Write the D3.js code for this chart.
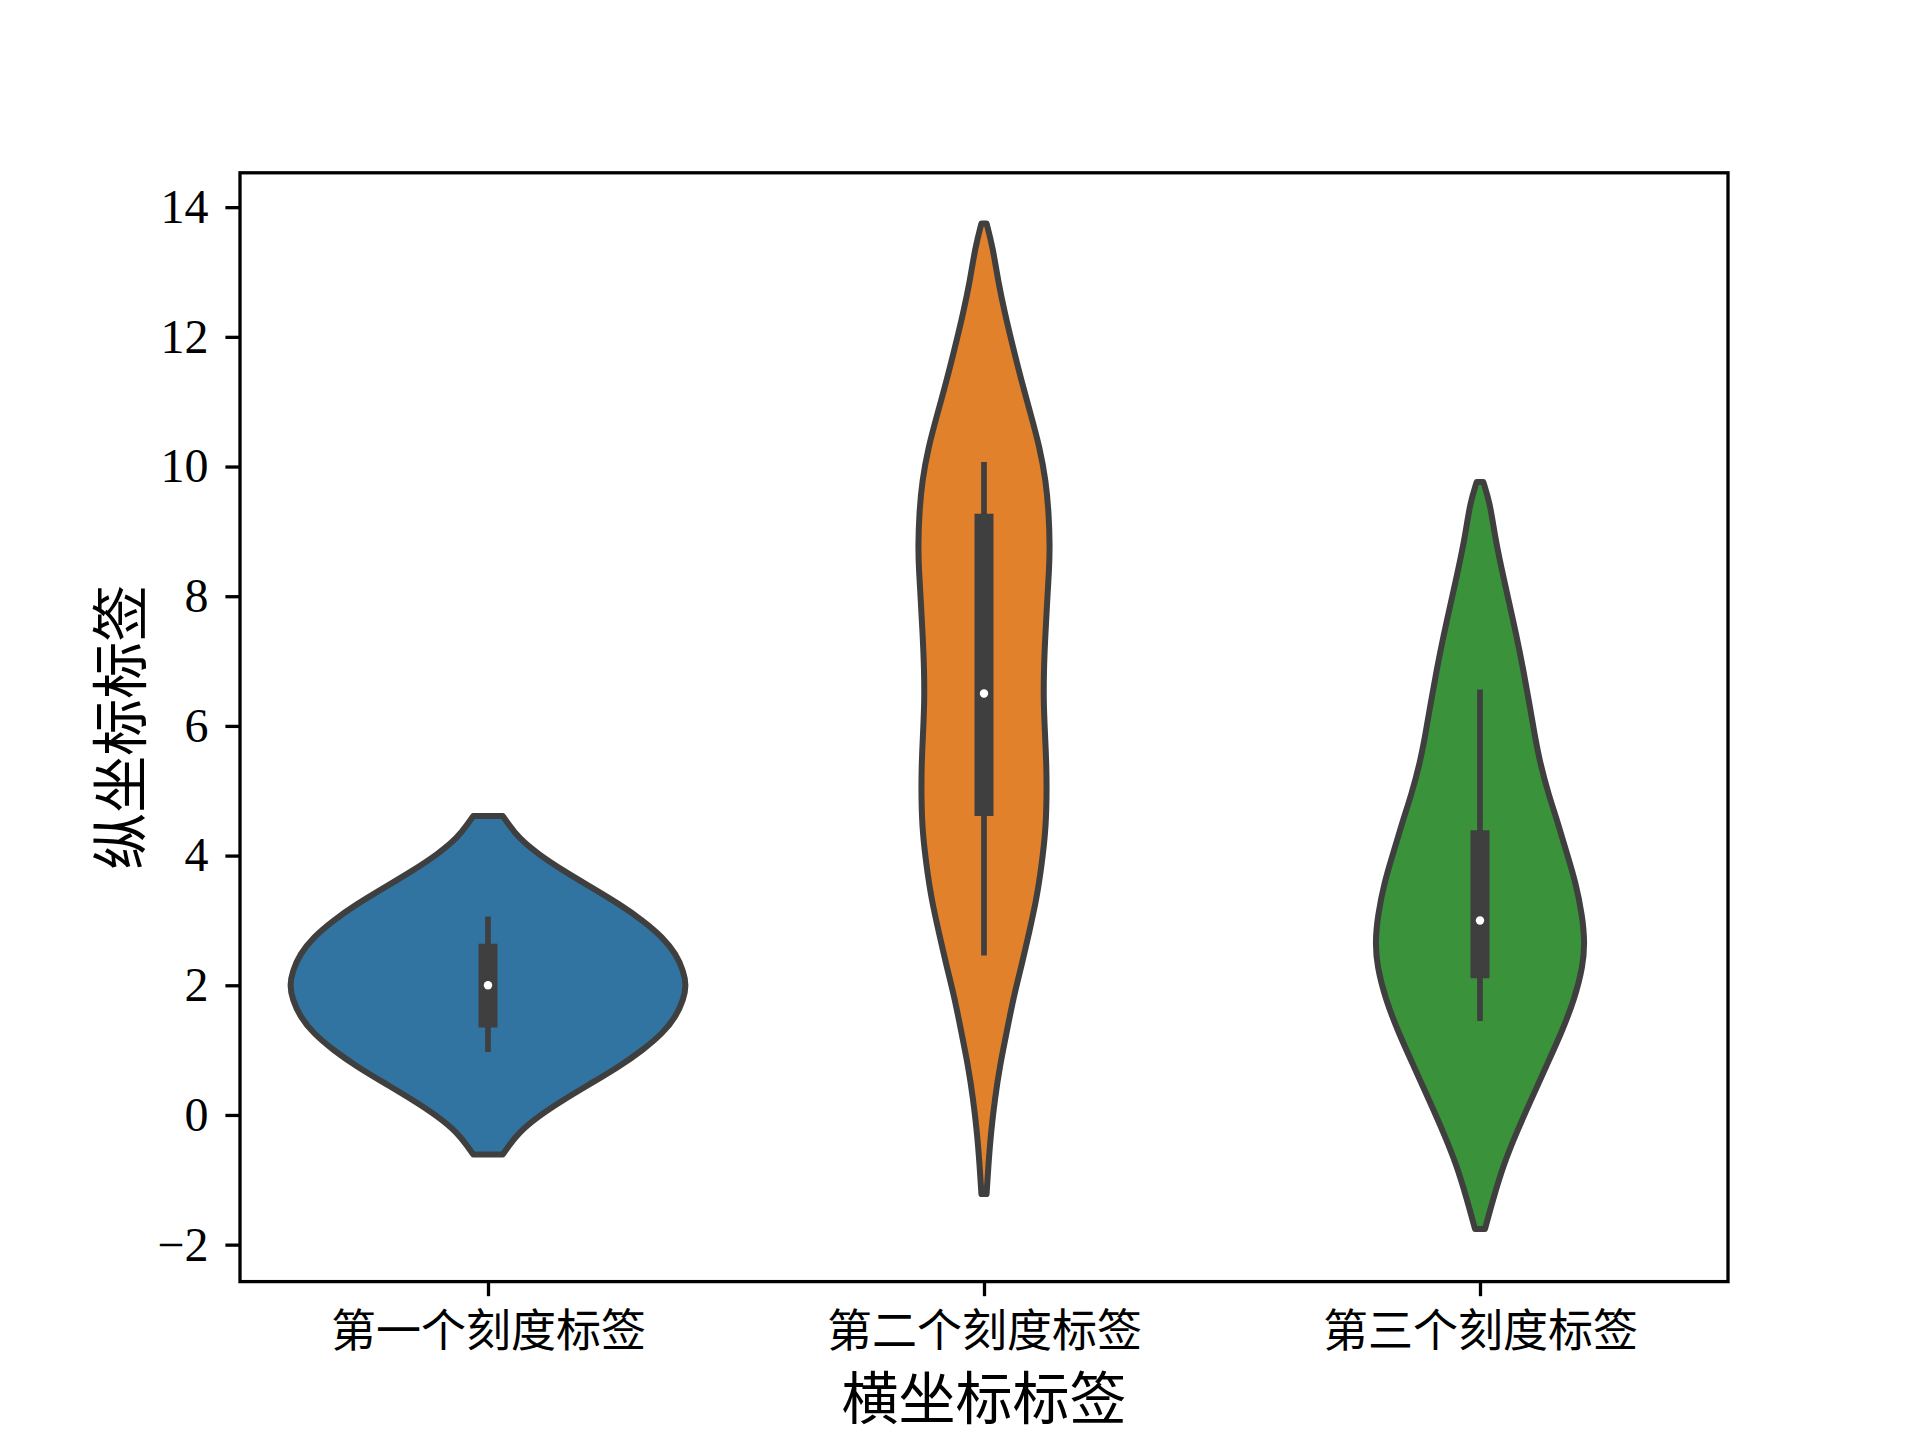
<!DOCTYPE html>
<html><head><meta charset="utf-8">
<script src="https://cdn.jsdelivr.net/npm/d3@7"></script>
<style>body{margin:0;background:#fff}</style>
</head><body>
<svg id="chart" width="1920" height="1440" xmlns="http://www.w3.org/2000/svg"></svg>
<script>
// ---------- data ----------
const categories = ["第一个刻度标签", "第二个刻度标签", "第三个刻度标签"];
const xAxisLabel = "横坐标标签";
const yAxisLabel = "纵坐标标签";
const yTicks = [-2, 0, 2, 4, 6, 8, 10, 12, 14];
const colors = ["#3274a1", "#e1812c", "#3a923a"];

// violin outlines: y levels and relative density (1 = widest)
const violin1Levels  = [-0.61, -0.49, -0.28, -0.02, 0.23, 0.49, 0.75, 1.00, 1.26, 1.52, 1.78, 2.00, 2.22, 2.48, 2.74, 3.00, 3.25, 3.51, 3.77, 4.02, 4.28, 4.49, 4.61];
const violin1Density = [0.074, 0.102, 0.152, 0.253, 0.378, 0.521, 0.663, 0.780, 0.881, 0.948, 0.985, 1.000, 0.985, 0.948, 0.881, 0.780, 0.663, 0.521, 0.378, 0.253, 0.152, 0.102, 0.074];

const violin2Levels  = [-1.22, -0.78, -0.27, 0.25, 0.76, 1.27, 1.79, 2.30, 2.82, 3.33, 3.84, 4.36, 4.87, 5.38, 5.90, 6.40, 6.90, 7.40, 7.90, 8.40, 8.75, 9.26, 9.78, 10.29, 10.80, 11.32, 11.83, 12.35, 12.86, 13.37, 13.75];
const violin2Density = [0.013, 0.022, 0.035, 0.055, 0.080, 0.114, 0.147, 0.189, 0.228, 0.265, 0.290, 0.310, 0.316, 0.315, 0.307, 0.300, 0.302, 0.309, 0.318, 0.328, 0.332, 0.327, 0.312, 0.281, 0.236, 0.189, 0.147, 0.106, 0.071, 0.045, 0.013];

const violin3Levels  = [-1.76, -1.29, -0.78, -0.27, 0.25, 0.76, 1.27, 1.79, 2.30, 2.66, 3.07, 3.59, 4.05, 4.50, 4.95, 5.40, 5.85, 6.36, 6.87, 7.39, 7.90, 8.42, 8.93, 9.44, 9.76];
const violin3Density = [0.025, 0.067, 0.117, 0.184, 0.260, 0.335, 0.411, 0.477, 0.519, 0.528, 0.516, 0.482, 0.436, 0.393, 0.345, 0.305, 0.276, 0.248, 0.218, 0.184, 0.147, 0.109, 0.075, 0.050, 0.017];

// inner box statistics
const whiskerLow  = [0.97, 2.46, 1.45];
const quartile1   = [1.35, 4.61, 2.11];
const medians     = [2.00, 6.50, 3.00];
const quartile3   = [2.64, 9.27, 4.39];
const whiskerHigh = [3.06, 10.07, 6.56];

const yDomain = [-2.57, 14.53];

// ---------- layout ----------
const plotLeft = 240, plotRight = 1728, plotTop = 172.8, plotBottom = 1281.6;
const svg = d3.select("#chart");

const x = d3.scaleLinear().domain([-0.5, categories.length - 0.5]).range([plotLeft, plotRight]);
const y = d3.scaleLinear().domain(yDomain).range([plotBottom, plotTop]);
const maxHalf = 0.4;

const violins = [
  {levels: violin1Levels, dens: violin1Density},
  {levels: violin2Levels, dens: violin2Density},
  {levels: violin3Levels, dens: violin3Density}
];

const gV = svg.append("g");
violins.forEach((v, i) => {
  const pts = v.levels.map((l, k) => ({v: l, d: v.dens[k]}));
  const area = d3.area()
    .y(d => y(d.v))
    .x0(d => x(i - d.d * maxHalf))
    .x1(d => x(i + d.d * maxHalf))
    .curve(d3.curveBasis);
  gV.append("path")
    .attr("d", area(pts))
    .attr("fill", colors[i])
    .attr("stroke", "#3f3f3f")
    .attr("stroke-width", 6)
    .attr("stroke-linejoin", "round");
});

// inner boxes
const gB = svg.append("g");
categories.forEach((c, i) => {
  gB.append("line")
    .attr("x1", x(i)).attr("x2", x(i))
    .attr("y1", y(whiskerLow[i])).attr("y2", y(whiskerHigh[i]))
    .attr("stroke", "#3f3f3f").attr("stroke-width", 5.7);
  gB.append("line")
    .attr("x1", x(i)).attr("x2", x(i))
    .attr("y1", y(quartile1[i])).attr("y2", y(quartile3[i]))
    .attr("stroke", "#3f3f3f").attr("stroke-width", 19);
  gB.append("circle")
    .attr("cx", x(i)).attr("cy", y(medians[i]))
    .attr("r", 4.2).attr("fill", "#fff");
});

// axes
const tickLen = 14.6;
const xAxis = d3.axisBottom(x).tickValues(categories.map((c, i) => i))
  .tickFormat(i => categories[i]).tickSize(tickLen).tickSizeOuter(0);
const gx = svg.append("g").attr("transform", `translate(0,${plotBottom})`).call(xAxis);
gx.select(".domain").remove();
gx.selectAll(".tick line").attr("stroke", "#000").attr("stroke-width", 3.3);
gx.selectAll(".tick text")
  .attr("y", 65).attr("dy", 0)
  .attr("fill", "#000")
  .style("font-family", "'Noto Sans CJK SC', sans-serif")
  .style("font-size", "45px");

const yAxis = d3.axisLeft(y).tickValues(yTicks)
  .tickFormat(d => d < 0 ? "\u2212" + Math.abs(d) : String(d))
  .tickSize(tickLen).tickPadding(17).tickSizeOuter(0);
const gy = svg.append("g").attr("transform", `translate(${plotLeft},0)`).call(yAxis);
gy.select(".domain").remove();
gy.selectAll(".tick line").attr("stroke", "#000").attr("stroke-width", 3.3);
gy.selectAll(".tick text")
  .attr("fill", "#000")
  .style("font-family", "'Liberation Serif', serif")
  .style("font-size", "48px");

// frame
svg.append("rect")
  .attr("x", plotLeft).attr("y", plotTop)
  .attr("width", plotRight - plotLeft).attr("height", plotBottom - plotTop)
  .attr("fill", "none").attr("stroke", "#000").attr("stroke-width", 3.3);

// axis labels
svg.append("text")
  .attr("x", (plotLeft + plotRight) / 2).attr("y", 1419)
  .attr("text-anchor", "middle")
  .style("font-family", "'Noto Sans CJK SC', sans-serif")
  .style("font-size", "57px")
  .text(xAxisLabel);

svg.append("text")
  .attr("transform", `translate(119,${(plotTop + plotBottom) / 2}) rotate(-90)`)
  .attr("dy", "0.38em")
  .attr("text-anchor", "middle")
  .style("font-family", "'Noto Sans CJK SC', sans-serif")
  .style("font-size", "57px")
  .text(yAxisLabel);
</script>
</body></html>
